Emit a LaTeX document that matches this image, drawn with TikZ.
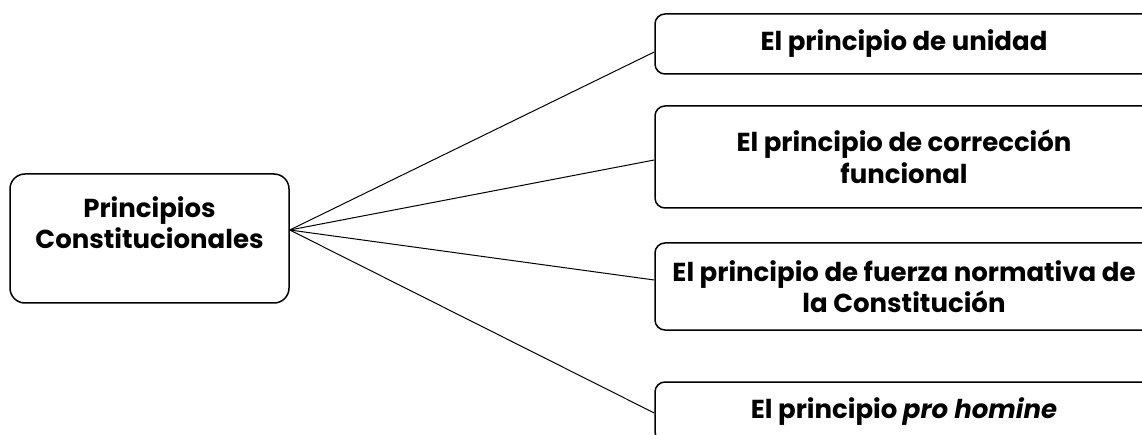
\documentclass[tikz,border=0pt]{standalone}
\usepackage{fontspec}
\setmainfont{Poppins}
\usepackage{tikz}

\begin{document}
\begin{tikzpicture}
        [x=1pt,y=-1pt,
         every node/.style={font=\fontsize{26}{31.5}\selectfont\bfseries,align=center},
         caja/.style={rectangle,draw=black,line width=1.5pt,inner sep=0pt},
         principio/.style={caja,rounded corners=10pt,minimum width=498pt}]
        \useasboundingbox (0,0) rectangle (1142,435);
        \clip (0,0) rectangle (1142,435);
        \node [caja,rounded corners=15pt,minimum width=279pt,minimum height=129pt,name=root] at (149.5,238.5) {Principios\\Constitucionales\\~};
        \node [principio,minimum height=60pt,name=p1] at (904,44) {El principio de unidad};
        \node [principio,minimum height=102pt,name=p2] at (904,157) {El principio de corrección\\funcional};
        \node [principio,minimum height=87pt,name=p3] at (904,286.5) {El principio de fuerza normativa de\\la Constitución};
        \node [principio,minimum height=60pt,name=p4] at (904,412) {El principio \textit{pro homine}};
        \coordinate (hub) at ([yshift=8.5pt]root.east);

        \path[-,line width=1pt] (hub) edge ([yshift=-8pt]p1.west)
              (hub) edge ([yshift=-3pt]p2.west)
              (hub) edge ([yshift=6.5pt]p3.west)
              (hub) edge ([yshift=-1pt]p4.west);
    \end{tikzpicture}
\end{document}
